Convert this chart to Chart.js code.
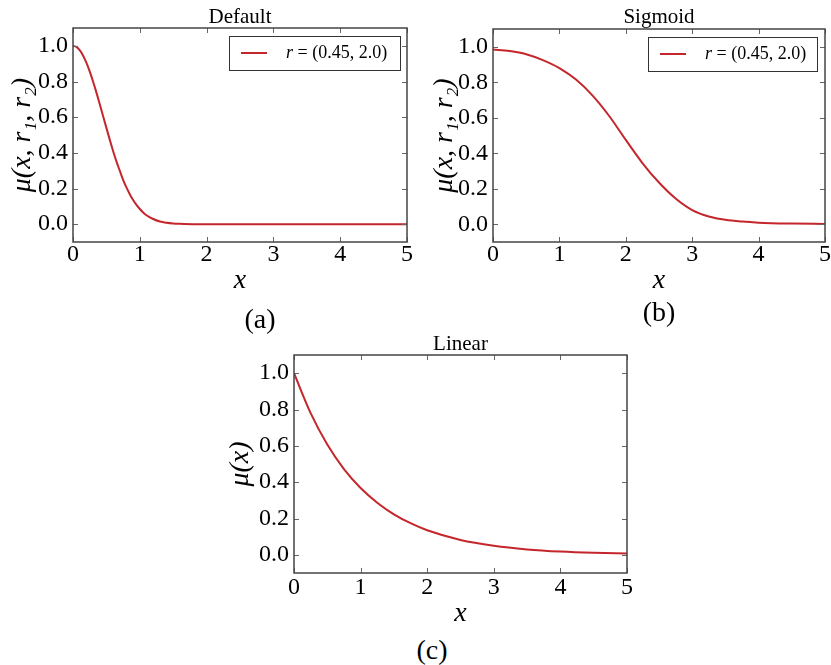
<!DOCTYPE html>
<html>
<head>
<meta charset="utf-8">
<script src="https://cdn.jsdelivr.net/npm/chart.js"></script>
<style>
    html, body { margin: 0; padding: 0; background: #fff; }
    #wrap { position: relative; width: 831px; height: 665px; overflow: hidden; }
    canvas { position: absolute; }
    .tag { position: absolute; font: 28px "Liberation Serif", serif; line-height: 1; color: #000; transform: translate(-50%, -50%); }
</style>
</head>
<body>
<div id="wrap">
    <canvas id="chartA" width="420" height="300" style="left:0;top:0"></canvas>
    <canvas id="chartB" width="411" height="300" style="left:420px;top:0"></canvas>
    <canvas id="chartC" width="440" height="305" style="left:210px;top:325px"></canvas>
    <div class="tag" style="left:260px;top:319px">(a)</div>
    <div class="tag" style="left:659px;top:312px">(b)</div>
    <div class="tag" style="left:432px;top:650px">(c)</div>
</div>

<script>
// --- datos ---
const xTicks = [0, 1, 2, 3, 4, 5];
const yTicks = [0.0, 0.2, 0.4, 0.6, 0.8, 1.0];

const defaultX = [0, 0.05, 0.1, 0.15, 0.2, 0.25, 0.3, 0.35, 0.4, 0.45, 0.5, 0.55, 0.6, 0.65, 0.7, 0.75, 0.8, 0.85, 0.9, 0.95, 1.0, 1.05, 1.1, 1.2, 1.3, 1.4, 1.5, 1.6, 1.8, 2.0, 3.0, 4.0, 5.0];
const defaultY = [1.00, 0.994, 0.976, 0.946, 0.906, 0.857, 0.80, 0.739, 0.674, 0.607, 0.54, 0.474, 0.41, 0.352, 0.30, 0.249, 0.206, 0.168, 0.135, 0.108, 0.085, 0.066, 0.05, 0.029, 0.015, 0.008, 0.004, 0.002, 0.0, 0.0, 0.0, 0.0, 0.0];

const sigmoidX = [0, 0.25, 0.5, 0.75, 1.0, 1.25, 1.5, 1.75, 2.0, 2.25, 2.5, 2.75, 3.0, 3.25, 3.5, 3.75, 4.0, 4.5, 5.0];
const sigmoidY = [0.985, 0.976, 0.958, 0.925, 0.88, 0.815, 0.725, 0.61, 0.475, 0.345, 0.235, 0.145, 0.08, 0.044, 0.025, 0.015, 0.009, 0.004, 0.002];

const linearX = [0, 0.25, 0.5, 0.75, 1.0, 1.25, 1.5, 1.75, 2.0, 2.5, 3.0, 3.5, 4.0, 4.5, 5.0];
const linearY = [1.0, 0.78, 0.607, 0.472, 0.368, 0.287, 0.223, 0.174, 0.135, 0.082, 0.05, 0.03, 0.018, 0.011, 0.007];

const legendLabel = 'r = (0.45, 2.0)';
const SERIF = '"Liberation Serif", "Times New Roman", serif';
const RED = '#c4262b';

// marco completo + ticks hacia dentro (estilo matplotlib)
const frameTicks = {
    id: 'frameTicks',
    afterDatasetsDraw(chart) {
        const { ctx, chartArea: { left, right, top, bottom }, scales: { x, y } } = chart;
        ctx.save();
        ctx.strokeStyle = '#666';
        ctx.lineWidth = 1;
        ctx.beginPath();
        x.ticks.forEach(t => {
            const px = Math.round(x.getPixelForValue(t.value)) + 0.5;
            ctx.moveTo(px, bottom); ctx.lineTo(px, bottom - 5);
            ctx.moveTo(px, top); ctx.lineTo(px, top + 5);
        });
        y.ticks.forEach(t => {
            const py = Math.round(y.getPixelForValue(t.value)) + 0.5;
            ctx.moveTo(left, py); ctx.lineTo(left + 5, py);
            ctx.moveTo(right, py); ctx.lineTo(right - 5, py);
        });
        ctx.stroke();
        ctx.strokeStyle = '#444';
        ctx.lineWidth = 1.5;
        ctx.strokeRect(left, top, right - left, bottom - top);
        ctx.restore();
    }
};

// leyenda dentro del área (arriba a la derecha) con recuadro
const insetLegend = {
    id: 'insetLegend',
    afterDraw(chart, args, opts) {
        if (!opts.display) return;
        const { ctx, chartArea } = chart;
        const ds = chart.data.datasets[0];
        const right = chartArea.right - opts.marginRight;
        const top = chartArea.top + opts.marginTop;
        const left = right - opts.width;
        const cy = top + opts.height / 2;

        ctx.save();
        ctx.strokeStyle = '#333';
        ctx.lineWidth = 1;
        ctx.strokeRect(Math.round(left) + 0.5, Math.round(top) + 0.5, opts.width, opts.height);

        ctx.strokeStyle = ds.borderColor;
        ctx.lineWidth = ds.borderWidth;
        ctx.beginPath();
        ctx.moveTo(left + 12, cy);
        ctx.lineTo(left + 38, cy);
        ctx.stroke();

        ctx.fillStyle = '#000';
        ctx.textBaseline = 'middle';
        ctx.font = 'italic 18px ' + SERIF;
        const head = ds.label.charAt(0);
        let tx = left + 57;
        ctx.fillText(head, tx, cy);
        tx += ctx.measureText(head).width;
        ctx.font = '18px ' + SERIF;
        ctx.fillText(ds.label.slice(1), tx, cy);
        ctx.restore();
    }
};

function makeChart(id, xs, ys, cfg) {
    const points = xs.map((x, i) => ({ x: x, y: ys[i] }));
    return new Chart(document.getElementById(id), {
        type: 'line',
        data: {
            datasets: [{
                label: legendLabel,
                data: points,
                borderColor: RED,
                borderWidth: 2,
                pointRadius: 0,
                fill: false,
                cubicInterpolationMode: 'monotone'
            }]
        },
        options: {
            responsive: false,
            animation: false,
            events: [],
            layout: { padding: { left: 0, right: cfg.padRight, top: 0, bottom: 0 } },
            plugins: {
                legend: { display: false },
                tooltip: { enabled: false },
                title: {
                    display: true,
                    text: cfg.title,
                    fullSize: false,
                    color: '#000',
                    font: { family: SERIF, size: cfg.titleSize, weight: 'normal', lineHeight: 1 },
                    padding: { top: cfg.titlePad[0], bottom: cfg.titlePad[1] }
                },
                insetLegend: cfg.legend || { display: false }
            },
            scales: {
                x: {
                    type: 'linear',
                    min: 0, max: 5,
                    grid: { display: false, drawTicks: false },
                    border: { display: false },
                    afterBuildTicks: s => { s.ticks = xTicks.map(v => ({ value: v })); },
                    afterFit: s => { s.height = cfg.xHeight; s.paddingLeft = 0; s.paddingRight = 0; },
                    ticks: {
                        color: '#000', padding: cfg.xTickPad, maxRotation: 0, autoSkip: false,
                        font: { family: SERIF, size: cfg.tickSize, lineHeight: 1 },
                        callback: v => String(v)
                    },
                    title: {
                        display: true, text: 'x', color: '#000',
                        font: { family: SERIF, size: 28, style: 'italic', lineHeight: 1 },
                        padding: { top: 0, bottom: cfg.xTitlePad }
                    }
                },
                y: {
                    min: -0.1, max: 1.1,
                    grid: { display: false, drawTicks: false },
                    border: { display: false },
                    afterBuildTicks: s => { s.ticks = yTicks.map(v => ({ value: v })); },
                    afterFit: s => { s.width = cfg.yWidth; s.paddingTop = 0; s.paddingBottom = 0; },
                    ticks: {
                        color: '#000', padding: 5, autoSkip: false,
                        font: { family: SERIF, size: cfg.tickSize, lineHeight: 1 },
                        callback: v => v.toFixed(1)
                    },
                    title: {
                        display: true, text: cfg.yTitle, color: '#000',
                        font: { family: SERIF, size: 28, style: 'italic', lineHeight: 1 },
                        padding: { top: cfg.yTitlePad, bottom: 0 }
                    }
                }
            }
        },
        plugins: [frameTicks, insetLegend]
    });
}

makeChart('chartA', defaultX, defaultY, {
    title: 'Default', titleSize: 21, titlePad: [7, 0],
    padRight: 13, yWidth: 73, xHeight: 58,
    tickSize: 24, xTickPad: 1, xTitlePad: 5, yTitlePad: 9,
    yTitle: 'μ(x, r₁, r₂)',
    legend: { display: true, marginRight: 7, marginTop: 8, width: 171, height: 34 }
});

makeChart('chartB', sigmoidX, sigmoidY, {
    title: 'Sigmoid', titleSize: 21, titlePad: [7, 1],
    padRight: 6, yWidth: 73, xHeight: 58,
    tickSize: 24, xTickPad: 1, xTitlePad: 5, yTitlePad: 11,
    yTitle: 'μ(x, r₁, r₂)',
    legend: { display: true, marginRight: 8, marginTop: 8, width: 169, height: 34 }
});

makeChart('chartC', linearX, linearY, {
    title: 'Linear', titleSize: 21, titlePad: [9, 0],
    padRight: 23, yWidth: 84, xHeight: 57,
    tickSize: 24, xTickPad: 3, xTitlePad: 2, yTitlePad: 17,
    yTitle: 'μ(x)'
});
</script>
</body>
</html>
